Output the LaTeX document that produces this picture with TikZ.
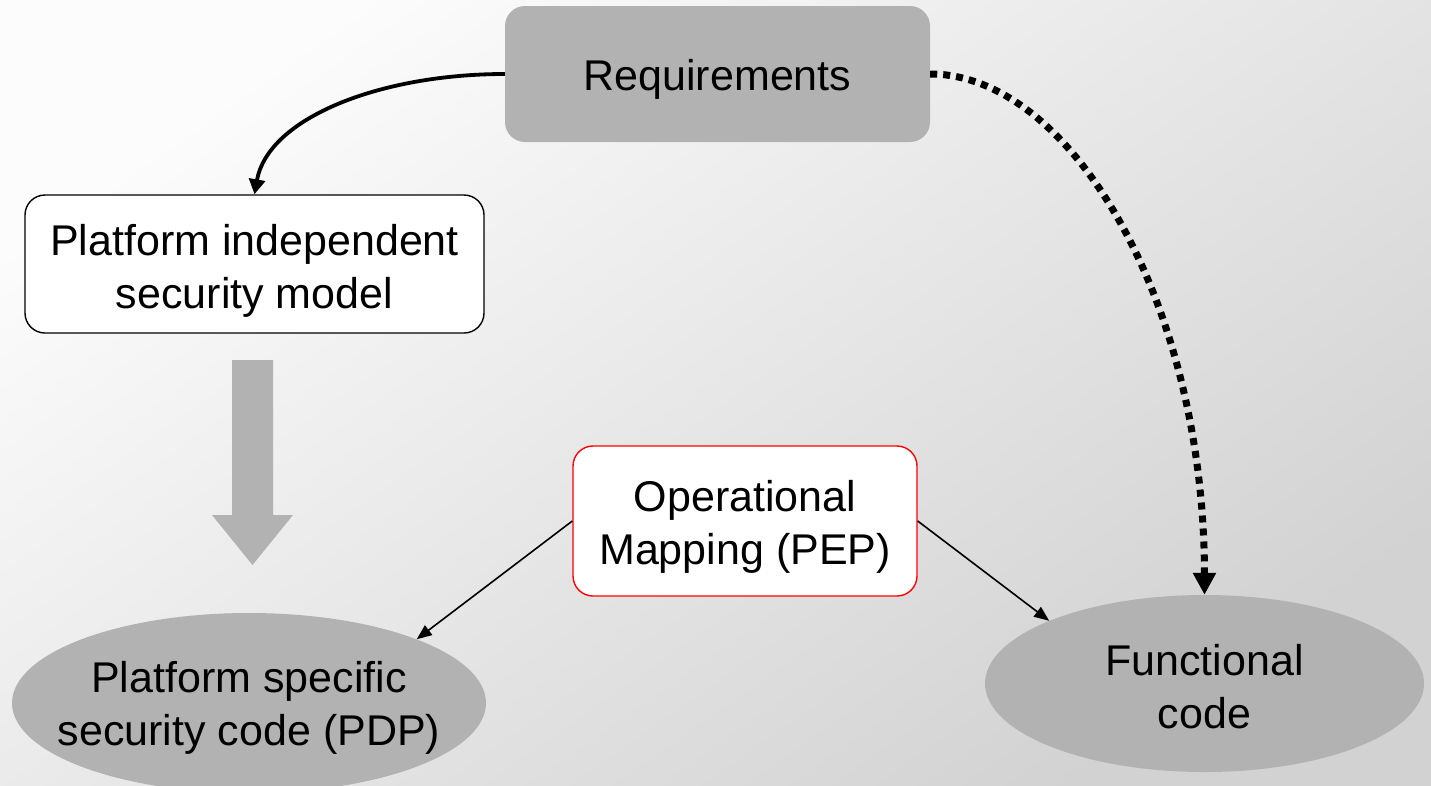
\documentclass[tikz,border=0pt]{standalone}
\usepackage{fontspec}
\setmainfont{Liberation Sans}
\usetikzlibrary{arrows.meta,shapes.geometric}
\definecolor{boxgray}{HTML}{B2B2B2}
\definecolor{bglight}{HTML}{FCFCFC}
\definecolor{bgdark}{HTML}{D2D2D2}
\tikzset{
  lbl/.style={font=\fontsize{43}{53}\selectfont, align=center, text=black},
  roundbox/.style={rounded corners=20pt, inner sep=0pt},
  oval/.style={ellipse, fill=boxgray, inner sep=0pt},
  thinarrow/.style={-{Triangle[length=15pt,width=12pt]}, line width=1.6pt},
}
\begin{document}
\begin{tikzpicture}[x=1pt,y=-1pt]
  % background
  \shade[shading=axis, top color=bglight, bottom color=bgdark, shading angle=35]
    (0,0) rectangle (1431,785);
  \useasboundingbox (0,0) rectangle (1431,785);

  % boxes
  \node[roundbox, lbl, fill=boxgray, minimum width=425pt, minimum height=136pt,
        text height=41pt]
    (req) at (717.5,74) {Requirements};
  \node[roundbox, fill=white, draw=black, line width=1.4pt,
        minimum width=459pt, minimum height=138pt] (pim) at (254.5,264) {};
  \node[lbl, yshift=-7pt] (pimtext) at (pim.center)
    {Platform independent\\security model};
  \node[roundbox, fill=white, draw=red, line width=1.4pt,
        minimum width=344pt, minimum height=150pt] (opm) at (745,521) {};
  \node[lbl, yshift=-6pt] (opmtext) at (opm.center)
    {Operational\\Mapping (PEP)};

  % code ellipses and their labels
  \node[oval, minimum width=474pt, minimum height=180pt] (psc) at (249,703) {};
  \node[lbl, yshift=-5pt] (psctext) at (psc.center)
    {Platform specific\\security code (PDP)};
  \node[oval, minimum width=439pt, minimum height=177pt] (fun) at (1204.5,683.5) {};
  \node[lbl, yshift=-3pt] (funtext) at (fun.center) {Functional\\code};

  % refinement arrow
  \fill[boxgray] (232,360) -- (273,360) -- (273,515) -- (293,515)
    -- (252.5,565) -- (212,515) -- (232,515) -- cycle;

  % connectors
  \draw[-{Triangle[length=15pt,width=16pt]}, line width=3.8pt]
    (req.west) .. controls (380,74) and (268,118) .. (pim.north);
  \draw[-{Triangle[length=22pt,width=22pt]}, line width=7pt,
        dash pattern=on 7pt off 6pt]
    (req.east) .. controls (1070,74) and (1204,300) .. (fun.north);
  \draw[thinarrow] (opm.west) -- (psc.north east);
  \draw[thinarrow] (opm.east) -- (fun.north west);
\end{tikzpicture}
\end{document}
